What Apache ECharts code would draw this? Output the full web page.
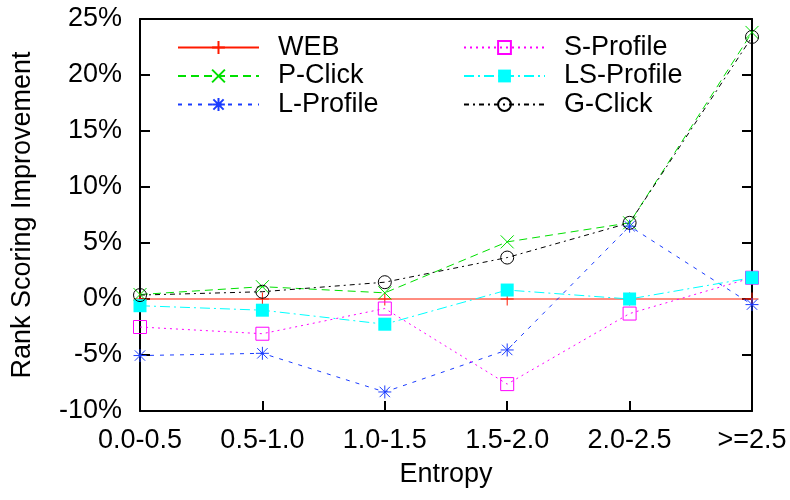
<!DOCTYPE html>
<html>
<head>
<meta charset="utf-8">
<script src="https://cdn.jsdelivr.net/npm/echarts@6/dist/echarts.min.js"></script>
<style>
    html, body { margin: 0; padding: 0; background: #fff; }
    #main { width: 790px; height: 500px; }
</style>
</head>
<body>
<div id="main"></div>
<script>
// 横轴分类
var categories = ['0.0-0.5', '0.5-1.0', '1.0-1.5', '1.5-2.0', '2.0-2.5', '>=2.5'];
// 各方法数值 (%)
var webData = [0, 0, 0, 0, 0, 0];
var pClickData = [0.4, 1.1, 0.55, 5.1, 6.8, 23.8];
var lProfileData = [-5.05, -4.85, -8.3, -4.55, 6.5, -0.5];
var sProfileData = [-2.5, -3.1, -0.85, -7.6, -1.3, 1.9];
var lsProfileData = [-0.6, -1.0, -2.25, 0.8, 0.0, 1.9];
var gClickData = [0.35, 0.65, 1.5, 3.7, 6.8, 23.4];
// 纵轴刻度
var yTicks = { min: -10, max: 25, step: 5 };

var FONT = 'Liberation Sans';
var FS = 27;
var myChart = echarts.init(document.getElementById('main'), null, { renderer: 'canvas' });

// 符号路径
var SYM_PLUS = 'path://M0,5L10,5M5,0L5,10';
var SYM_CROSS = 'path://M0,0L10,10M10,0L0,10';
var SYM_STAR = 'path://M0,5L10,5M5,0L5,10M1,1L9,9M9,1L1,9';
var SYM_SQUARE = 'path://M0,0L10,0L10,10L0,10Z';

function makeSeries(name, data, color, dash, symbol, filled) {
    return {
        name: name,
        type: 'line',
        data: data,
        symbol: symbol,
        symbolSize: 13,
        showSymbol: true,
        lineStyle: { color: color, width: 1, type: dash },
        itemStyle: filled ? { color: color, borderWidth: 0 }
                          : { color: 'none', borderColor: color, borderWidth: 1 },
        emphasis: { disabled: true }
    };
}

var legendText = { fontFamily: FONT, fontSize: FS, color: '#000', lineHeight: 27, padding: [0, 0, 0, 14] };

var option = {
    animation: false,
    backgroundColor: '#fff',
    grid: { left: 140, right: 38, top: 19, bottom: 89, containLabel: false },
    legend: [
        {
            data: ['WEB', 'P-Click', 'L-Profile'],
            orient: 'vertical', left: 172, top: 29,
            itemWidth: 81, itemHeight: 16, itemGap: 1.5,
            textStyle: legendText, selectedMode: false
        },
        {
            data: ['S-Profile', 'LS-Profile', 'G-Click'],
            orient: 'vertical', left: 458, top: 29,
            itemWidth: 81, itemHeight: 16, itemGap: 1.5,
            textStyle: legendText, selectedMode: false
        }
    ],
    xAxis: [
        {
            type: 'category',
            data: categories,
            boundaryGap: false,
            name: 'Entropy',
            nameLocation: 'middle',
            nameGap: 50,
            nameTextStyle: { fontFamily: FONT, fontSize: FS, color: '#000', lineHeight: 27 },
            axisLine: { onZero: false, lineStyle: { color: '#000', width: 2 } },
            axisTick: { inside: true, length: 10, lineStyle: { color: '#000', width: 2 } },
            axisLabel: { fontFamily: FONT, fontSize: FS, color: '#000', margin: 16, lineHeight: 27 },
            splitLine: { show: false }
        },
        {
            type: 'category',
            data: categories,
            boundaryGap: false,
            position: 'top',
            axisLine: { onZero: false, lineStyle: { color: '#000', width: 2 } },
            axisTick: { show: false },
            axisLabel: { show: false },
            splitLine: { show: false }
        }
    ],
    yAxis: [
        {
            type: 'value',
            min: yTicks.min, max: yTicks.max, interval: yTicks.step,
            name: 'Rank Scoring Improvement',
            nameLocation: 'middle',
            nameGap: 104,
            nameTextStyle: { fontFamily: FONT, fontSize: FS, color: '#000', lineHeight: 27 },
            axisLine: { show: true, onZero: false, lineStyle: { color: '#000', width: 2 } },
            axisTick: { show: true, inside: true, length: 10, lineStyle: { color: '#000', width: 2 } },
            axisLabel: { fontFamily: FONT, fontSize: FS, color: '#000', margin: 18, formatter: '{value}%' },
            splitLine: { show: false }
        },
        {
            type: 'value',
            min: yTicks.min, max: yTicks.max, interval: yTicks.step,
            position: 'right',
            axisLine: { show: true, onZero: false, lineStyle: { color: '#000', width: 2 } },
            axisTick: { show: true, inside: true, length: 10, lineStyle: { color: '#000', width: 2 } },
            axisLabel: { show: false },
            splitLine: { show: false }
        }
    ],
    series: [
        makeSeries('WEB', webData, '#ff1a00', 'solid', SYM_PLUS, false),
        makeSeries('P-Click', pClickData, '#00e000', [8, 5], SYM_CROSS, false),
        makeSeries('L-Profile', lProfileData, '#1a3cff', [4, 6], SYM_STAR, false),
        makeSeries('S-Profile', sProfileData, '#ff00ff', [2, 4], SYM_SQUARE, false),
        makeSeries('LS-Profile', lsProfileData, '#00ffff', [10, 4, 2, 4], 'rect', true),
        makeSeries('G-Click', gClickData, '#000000', [5, 4, 2, 4], 'circle', false)
    ]
};

myChart.setOption(option);
</script>
</body>
</html>
